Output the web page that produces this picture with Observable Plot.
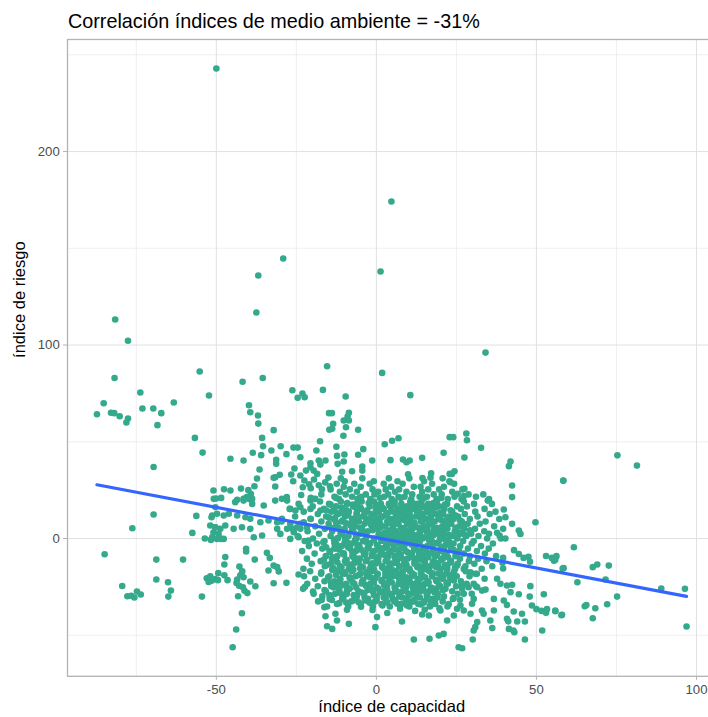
<!DOCTYPE html>
<html><head><meta charset="utf-8">
<script src="https://cdn.jsdelivr.net/npm/d3@7"></script>
<script src="https://cdn.jsdelivr.net/npm/@observablehq/plot@0.6"></script>
<style>
html,body{margin:0;padding:0;background:#fff;overflow:hidden;width:708px;height:717px;}
#chart{position:absolute;left:0;top:0;width:716px;height:717px;}
#chart svg{max-width:none !important;width:716px !important;height:717px !important;}
#title{position:absolute;left:68px;top:12px;font-family:"Liberation Sans",Arial,Helvetica,sans-serif;font-size:19.8px;color:#000;white-space:nowrap;line-height:1;}
</style></head><body>
<div id="chart"></div>
<div id="title">Correlación índices de medio ambiente = -31%</div>
<script>
const titleText = "Correlación índices de medio ambiente = -31%";
const xLabel = "índice de capacidad";
const yLabel = "índice de riesgo";
const xMajor = [-50, 0, 50, 100];
const xMinor = [-75, -25, 25, 75];
const yMajor = [0, 100, 200];
const yMinor = [-50, 50, 150, 250];

// [x, y] points
const outliers = [[-50,242.9],[4.7,174.2],[-29.1,144.7],[1.3,138],[-36.9,135.9],[-37.5,116.8],[-81.6,113.2],[34.1,96.1],[-77.6,102.2],[1.8,85.6],[-15.4,89],[-55.2,86.3],[-81.8,83],[-35.5,83],[-41.8,81]];
const farLeft = [[-73.75,75.5],[-52.3,73.9],[-85.2,69.9],[-63.3,70.3],[-73.1,67.2],[-69.7,67.2],[-67.2,64.8],[-87.3,64.2],[-82.9,65],[-81.9,64.8],[-80.2,63.2],[-77.6,62],[-78.1,60],[-68.4,58.6],[-56.7,52],[-54.3,44.4],[-69.6,37],[-50.9,24.8],[-50.1,20.7],[-69.6,12.4],[-56.25,11.7],[-50.3,16.2],[-51.5,11],[-76.25,5.3],[-57.5,2.9],[-50.4,5.8],[-50.9,3.1],[-53.6,0],[-51.7,-0.7],[-84.9,-8.1],[-68.75,-10.9],[-60.4,-10.9],[-49.4,-17.9],[-68.75,-21.2],[-65.1,-22.6],[-53,-20.5],[-52.4,-22.5],[-51.5,-21.8],[-50.4,-21],[-79.4,-24.5],[-64.2,-26.9],[-74.8,-27.4],[-73.6,-28.9],[-77.8,-29.8],[-76.6,-29.6],[-75.6,-30.5],[-65,-30],[-54.5,-30]];
const upperMid = [[-26.25,76.6],[-24.6,72.7],[-23.1,74.9],[-22.4,73],[-16.7,76.8],[-39.8,68.9],[-39.4,65.3],[-37,63.6],[-36.9,59.4],[-32.1,56],[-14.8,64.8],[-14.7,56.2],[-35.7,52],[-35.4,47.7],[-17.6,50.3],[-29.9,47.7],[-25.9,47],[-24.6,47],[-32.8,45.5],[-38.6,44.3],[-18.75,45.5],[-36,43.1],[-28.1,43.6],[-45.6,41.2],[-41.5,40.3],[-31.3,40.7],[-31.3,38.6],[-23.75,42],[-20.6,38.9],[-18,40.3],[-15.9,40.3],[-17.5,38.2],[-36.5,35.7],[-25.6,36.2],[-22,35.1],[-30.2,32.9],[-31.6,31.7],[-32.1,31.4],[-26.6,33.1],[-23.75,32.6],[-26,29.6],[-37.3,31],[-38.1,27],[-31.6,26.9],[-47.6,25.5],[-45.6,24.8],[-42.3,25.8],[-40,25],[-39.2,23],[-40.5,21.5],[-38.8,20.5],[-48.5,21],[-41.5,20.5],[-43.5,20],[-29.5,20.5],[-28,21.5],[-23.5,22.5],[-20.5,21],[-20.6,36.8],[-19.6,35.1],[-18.5,33.4],[-22.5,30],[-21,28],[-19.5,30.5],[-18,27.5],[-20.5,26],[-17,25.5],[-16,29],[-15,31.5],[-14.5,27],[-23,26.5],
[10.6,74.1],[-9.6,73.4],[-13.9,64.8],[-8.6,65],[-9,63],[-8.6,61],[-10.2,61],[-13.5,59.3],[-13.8,56.7],[-9.5,57.5],[-5.7,56.2],[-10.3,53.1],[2.6,48.7],[4.9,50.5],[6.9,51.8],[-12.5,47.4],[-4.1,46.2],[-12.3,42.7],[-10,43.4],[-5.7,43.3],[-12.1,38.6],[-10.2,39.8],[-1.3,40.3],[4.4,40.5],[8.3,40.8],[9.4,39.4],[10.4,40.3],[14.3,41.7],[21,44.3],[22.9,52.4],[-4.4,37.2],[-4.4,35.1],[-10.7,34.5],[-7.6,34.8],[9.9,33.2],[14.4,31.2],[17.1,33.7],[16.9,31.4],[22.9,33.4],
[28.1,54.3],[28.3,50.8],[24,52.4],[32.7,46.9],[27.5,41.9],[41.9,39.8],[41.4,37.4],[24.4,34.8],[23.6,33.4],[58.4,30],[42.4,27.4],[23.1,29.1],[27.5,25.7],[25.4,23.1],[27.3,21.9],[42.4,21.4],[34.8,19.6]];
const lowerLeft = [[-47.2,-9.6],[-47.5,-13.4],[-40.7,-5.3],[-40.7,-6.7],[-38,-10.9],[-34.2,-7.4],[-33.3,-10],[-42.8,-14.5],[-41.9,-17],[-42.5,-19],[-41.5,-20],[-51.9,-19.5],[-49.5,-21.5],[-47.5,-19],[-46.5,-21.5],[-43.5,-21.2],[-43.7,-23],[-42.9,-24.4],[-41.7,-25.2],[-41.2,-27],[-40.3,-28.2],[-39.4,-22.2],[-37.8,-24.7],[-32.1,-14],[-31,-14.8],[-30.5,-17],[-33.7,-16.5],[-32.1,-23.1],[-28.1,-22.9],[-43.2,-29.8],[-42,-38.6],[-43.8,-47],[-44.9,-56.2],[-24.3,-18.6],[-16.25,-35.5],[-15.9,-40.2],[-15.4,-45.3],
[-50.8,20.5],[-44.1,18.8],[-41.5,19.6],[-39.9,20.5],[-38.8,17.9],[-35.2,17.1],[-31.6,19.6],[-27.9,19.6],[-26.9,15.3],[-25.3,14.5],[-23.75,16.2],[-20.6,19.6],[-19.1,20.5],[-20.6,15.3],[-17.5,14.5],[-51.3,11.9],[-49.8,12.8],[-47.7,11.9],[-46.1,12.8],[-43.5,11.9],[-40.9,11],[-39.4,10.2],[-36.25,8.4],[-33.7,9.3],[-31,8.4],[-29.5,10.2],[-26.9,7.6],[-24.8,5.8],[-22.7,8.4],[-20.6,10.2],[-51.9,6.7],[-50.3,5.8],[-48.75,5],[-47.2,6.7],[-44.6,5],[-42,5.8],[-39.4,5],[-31,5],[-30,2.4],[-27.9,5],[-25.8,3.3],[-23.75,5],[-21.7,5.8],[-51.3,0.7],[-49.3,2.4],[-47.7,-0.2],[-38.3,0.7],[-35.7,1.6],[-26.9,-0.2],[-24.3,0.7],[-21.2,-1],[-49.8,-0.2],[-48.5,-0.2]];
const lowerMid = [[-12.8,-38.9],[-12.3,-42.4],[-13.8,-46.7],[-8.6,-44.1],[-5.5,-32.9],[-3.4,-32],[-1.3,-33.7],[0.2,-40.6],[-0.3,-45.8],[6.5,-33.7],[8,-42.9],[9.6,-34.6],[14.3,-39.3],[16.4,-39.8],[16.9,-34.6],[20,-37.2],[22.1,-42.4],[11.7,-52.2],[16.6,-51.8],[19.5,-50.1],[21,-49.3],
[-11.6,-33.4],[-7.1,-31.9],[-4.8,-35.2],[1.9,-34.6],[5.1,-31.2],[7.4,-36.3],[10.8,-32.8],[13.9,-34.1],[18.2,-32.3],[22.6,-33.9],[24.1,-30.8],[-14.3,-30.6],[-17.1,-31.8],[-19.8,-27.4],[-22.3,-24.9],[26.1,-31.6],[12.1,-37.4],[-1.2,-36.9],[3.4,-38.5],[19.7,-36.1],[-9.2,-36.8],[15.1,-36.8]];
const lowerRight = [[39.8,15],[40.3,11],[42.4,7.6],[44.5,4.1],[45,2.4],[49.7,8.4],[37.7,3],[38.5,1.5],[40.3,0],[43,-6],[44.5,-8],[46,-10],[47.5,-9.5],[48,-12],[53,-9],[54.8,-10],[55.5,-11.5],[58.5,-15.3],[39.6,-10],[39.4,-12.5],[39.6,-15.5],[37.7,-20.8],[38.75,-23.4],[40.8,-24.3],[42.4,-23.9],[41.9,-27.7],[44.5,-28.8],[48.1,-24.6],[47.9,-30],[52.3,-28.8],[36.7,-31.2],[39.8,-32],[40.8,-34.3],[48.6,-34.6],[50,-36.5],[51.6,-37.4],[53,-38.4],[53.3,-36.5],[55.9,-37.2],[58,-39.4],[42.9,-37.7],[45.5,-38.9],[44,-42.9],[46.4,-42.9],[40.8,-41.5],[41.2,-42.8],[41.4,-46.7],[43.1,-48.4],[42.8,-47.5],[46.4,-52.2],[51.8,-47.5],[30.1,-52.2],[25.7,-56.2],[26.8,-56.7],[31.5,-43.2],[30.9,-45.8],[30.4,-47.5],[35.6,-42.4],[36.2,-46.3],
[36.7,-37.2],[33,-37.2],[33.5,-38.9],[29.4,-38.9],[27.3,-37.2],[25.2,-36.3],[24.2,-39.8],[26.25,-34.6],[29.9,-33.7],[30.4,-31.2],[23.1,-20.8],[24.2,-21.7],[26.8,-24.3],[27.3,-28.6],[28.8,-25.2],[30.4,-23.4],[31.5,-25.2],[33,-26.9],[34.1,-26.4],[23.1,-12.2],[25.2,-14],[27.3,-15.7],[29.4,-17.4],[30.9,-18.2]];
const farRight = [[75.3,43],[81.4,37.7],[58.4,29.8],[61.7,-4.5],[56.25,-9.1],[55.9,-11],[58.2,-15.5],[67.6,-14.8],[69,-13.4],[72.6,-14],[71.6,-21.2],[62.8,-22.6],[89,-25.8],[96.4,-26],[75.2,-30],[55.9,-37.6],[57.8,-39.6],[65.1,-35],[65.6,-34.4],[68.4,-36],[72.1,-34],[67.6,-41.2],[96.9,-45.5]];
// dense core, estimated row by row: [y, x, x, ...]
const coreRowsA = [
[31.1,-11.1,-4.4,3.9,10.3,20.7],
[29.6,-9.9,-0.8,6.6,14.9,22.8],
[28.3,-12.4,-6.9,-2.1,2.3,8.2,17.4,24.3],
[26.7,-10.2,-4.9,4.6,11.7,13.8,21.1],
[25.4,-14.3,-8.3,-1.2,2.9,7.1,16.2,19.6,26.9],
[24.2,-11.4,-6.1,0.6,5.8,9.4,14.3,23.7],
[22.8,-17.2,-9.6,-3.3,-0.6,3.7,11.2,17.9,20.4,28.8,33.4],
[21.6,-13.1,-7.6,-4.7,2.4,6.9,8.8,13.5,15.8,24.4,31.1],
[20.4,-19.4,-11.7,-5.9,-1.9,4.8,10.9,18.8,22.3,26.6,35.2],
[19.1,-17.6,-11.1,-4.6,-0.8,5.7,10.6,14.1,18.9,27.3],
[17.9,-24.3,-14.8,-9.2,-6.1,1.4,3.9,7.8,12.7,16.2,22.1,30.5,36.1],
[16.6,-19.9,-12.6,-7.3,-2.1,4.3,9.5,14.6,19.6,25.2,28.3],
[15.3,-27.1,-16.4,-10.7,-4.8,-0.2,2.3,6.6,11.9,17.4,21.2,26.4,33.8],
[13.9,-22.7,-14.1,-8.6,-3.3,0.8,5.3,8.4,13.2,15.8,23.7,30.9,37.2],
[12.7,-18.3,-11.9,-6.2,-1.6,3.1,10.4,14.7,18.6,20.9,27.6,35.4],
[11.4,-25.4,-15.7,-9.8,-4.2,1.9,6.3,9.1,12.4,17.1,22.8,25.5,31.6],
[10.1,-20.5,-13.3,-7.6,-2.4,0.6,4.7,8.1,15.3,19.4,24.1,29.2,38.4],
[8.8,-29.6,-17.2,-10.9,-5.5,-0.9,3.4,10.8,13.9,18.2,21.5,26.7,34.1],
[7.6,-23.8,-14.9,-8.3,-3.7,1.2,6.9,9.6,16.6,23.4,28.5,32.3],
[6.3,-19.1,-12.4,-6.7,-1.3,2.8,5.2,12.1,14.8,20.6,25.9,36.8],
[5.0,-26.2,-16.1,-9.9,-4.5,0.1,8.3,11.3,17.9,22.2,27.4,30.8,39.6],
[3.8,-21.5,-13.8,-7.2,-2.7,3.9,6.1,9.9,15.6,19.2,24.5,33.7],
[2.5,-17.9,-11.2,-5.1,0.8,4.4,7.7,13.4,18.3,21.1,26.3,29.6,35.2],
[1.3,-24.6,-14.3,-8.7,-3.1,2.2,10.2,12.6,16.7,23.9,28.1,31.9],
[0.0,-19.8,-12.1,-6.3,-0.6,5.6,8.8,14.4,20.4,25.2,34.6,38.9],
[-1.3,-22.4,-16.2,-9.4,-4.2,1.6,3.9,11.5,17.3,22.6,27.1,30.4],
[-2.6,-18.6,-13.1,-7.7,-1.9,6.6,9.4,13.2,19.1,24.1,29.8,36.4],
[-3.9,-21.1,-10.8,-5.3,0.4,3.1,7.9,15.9,21.3,26.2,32.7],
[-5.2,-16.9,-12.9,-8.2,-2.8,2.3,5.4,11.8,17.6,23.4,28.6,35.1],
[-6.5,-23.2,-14.6,-6.4,-0.7,4.4,9.2,13.7,19.8,25.8,31.4],
[-7.8,-19.3,-10.4,-3.9,1.3,7.1,11.1,16.2,21.9,27.3,33.9],
[-9.1,-15.8,-12.2,-7.5,-1.4,3.6,5.8,14.3,18.4,24.7,29.2,37.4],
[-10.4,-21.7,-13.9,-5.2,0.2,9.7,12.4,20.7,26.1,31.8],
[-11.7,-17.4,-9.8,-3.3,2.9,6.4,15.1,17.9,23.3,28.9,34.4],
[-13.0,-20.2,-14.1,-7.1,-0.3,4.6,8.6,11.9,19.3,25.4,30.6],
[-14.3,-16.1,-11.3,-4.8,1.8,7.2,13.6,16.8,22.1,27.8,36.2],
[-15.6,-22.8,-13.4,-8.6,-2.1,3.4,10.3,14.9,20.1,24.6,32.9],
[-16.9,-20.7,-12.1,-7.7,-1.4,3.9,6.1,10.5,16.6,24.3,27.9],
[-18.2,-17.3,-9.9,-4.9,0.4,7.8,14.1,19.4,21.8,31.4],
[-19.5,-22.6,-14.7,-6.4,-2.9,2.8,5.3,11.1,17.4,25.1,29.1],
[-20.8,-19.1,-11.3,-8.1,-0.9,8.8,13.4,20.7,23.1,33.8],
[-22.1,-16.2,-13.1,-4.4,1.7,4.2,10.2,16.1,18.8,26.4],
[-23.4,-21.6,-9.4,-6.9,-1.9,6.9,12.2,15.2,22.3,28.2],
[-24.7,-18.3,-14.1,-3.1,3.3,9.4,14.6,19.9,24.9,31.1],
[-26.0,-22.9,-11.6,-8.4,0.6,5.9,11.6,17.9,21.6,26.8],
[-27.3,-15.8,-5.6,-1.1,2.1,8.1,13.8,16.4,23.7],
[-28.6,-19.6,-12.9,-9.2,-3.8,4.9,10.8,19.2,25.4,29.8],
[-29.9,-16.9,-6.1,0.1,7.2,12.6,15.8,21.1],
[-31.2,-14.6,-10.7,-2.6,2.9,9.7,17.6,23.9],
[-32.5,-18.2,-7.8,-0.4,5.6,11.9,14.9,20.7],
[-33.8,-12.3,-4.9,1.6,7.8,13.1,18.4],
[-35.1,-15.4,-8.8,-1.1,4.2,10.3,16.7,22.2]
];
const coreRowsB = [
[17.5,-14.3,-7.4,-0.1,5.7,11.1,16.3,21.4],
[16.0,-10.9,-5.0,1.8,8.9,13.9,18.7],
[14.6,-15.7,-9.3,-2.9,4.6,10.3,15.8,23.2],
[13.3,-12.4,-6.1,0.1,7.1,12.7,20.1],
[12.0,-8.8,-3.8,3.2,8.1,14.4,19.3,24.6],
[10.7,-14.8,-5.9,-0.6,5.9,10.6,16.7,22.2],
[9.4,-10.5,-3.1,3.9,8.8,14.6,20.4,26.1],
[8.2,-12.6,-7.2,0.3,6.1,11.7,17.3,23.2],
[6.9,-8.1,-1.6,5.4,10.9,16.1,21.6,27.3],
[5.6,-11.8,-5.1,1.2,7.6,13.1,18.8,24.7],
[4.3,-7.6,-1.2,4.3,10.1,15.9,20.7,29.2],
[3.1,-10.6,-3.9,2.6,8.5,13.6,19.3,25.9],
[1.8,-6.4,0.7,6.2,11.7,17.9,22.8,27.7],
[0.6,-9.9,-3.2,3.6,9.4,14.9,20.9,25.3],
[-0.7,-13.2,-6.6,-0.8,4.8,10.6,16.4,21.6],
[-1.9,-16.6,-9.9,-3.1,2.9,7.7,13.5,19.4],
[-3.2,-12.4,-5.9,0.2,5.4,11.1,16.8,22.7],
[-4.5,-15.7,-8.8,-2.4,3.3,8.6,14.6,20.3],
[-5.8,-11.6,-4.8,1.1,6.4,12.5,17.9,24.1],
[-7.1,-14.5,-7.5,-1.2,4.6,9.8,15.6,21.1],
[-8.4,-10.1,-3.6,2.3,7.6,13.3,18.9,25.1],
[-9.7,-13.6,-6.8,-0.1,5.7,10.9,16.2,22.4],
[-11.0,-16.4,-9.3,-2.9,3.4,8.9,14.1,20.2],
[-12.3,-12.2,-5.6,0.6,6.2,11.9,17.6,23.3],
[-13.6,-15.3,-8.1,-1.7,4.1,9.4,15.3,21.4],
[-14.9,-10.9,-4.2,1.8,7.1,12.8,18.7,24.6],
[-16.2,-13.8,-7.2,-0.7,4.9,10.3,16.1,22.1],
[-17.5,-17.2,-9.7,-3.1,2.8,8.2,13.9,19.9],
[-18.8,-12.6,-5.4,0.3,6.1,11.8,17.4,23.6],
[-20.1,-15.1,-8.4,-1.9,3.9,9.3,15.2,20.9],
[-21.4,-11.3,-4.1,1.6,7.4,12.9,18.6],
[-22.7,-14.2,-7.4,-0.8,4.8,10.6,16.3,22.3],
[-24.0,-10.4,-3.4,2.4,8.1,13.9,19.6],
[-25.3,-13.3,-6.3,0.1,5.7,11.4,17.1],
[-26.6,-16.2,-9.2,-2.7,3.4,9.1,14.7,20.8],
[-27.9,-11.8,-4.5,1.1,6.8,12.2,18.2],
[-29.2,-14.7,-7.1,-0.8,4.6,10.3,15.9],
[-30.5,-10.3,-3.7,2.3,8.1,13.6,19.1],
[-31.8,-13.9,-6.6,0.1,5.9,11.8,16.7],
[-33.1,-9.4,-2.2,3.4,9.2,14.9]
];
const coreRowsC = [
[21.0,-12.6,-5.2,1.1,7.6,14.9,20.3],
[18.4,-9.1,-2.4,4.9,11.3,17.8],
[15.8,-13.2,-6.3,0.4,7.9,13.5,21.1],
[13.2,-10.4,-3.7,3.6,10.2,16.9],
[10.6,-12.9,-6.6,1.3,6.9,13.8,19.7],
[8.0,-9.6,-1.9,4.1,11.9,17.3,22.4],
[5.4,-13.7,-7.4,0.2,8.6,14.7,20.8],
[2.8,-10.8,-4.4,3.3,10.9,16.4],
[0.2,-12.1,-6.2,1.4,7.3,13.1,19.9],
[-2.4,-8.9,-2.6,4.8,11.6,18.2,22.8],
[-5.0,-13.1,-5.9,1.9,8.1,15.4,21.1],
[-7.6,-10.2,-3.4,3.9,10.6,17.1],
[-10.2,-12.7,-6.9,0.6,7.8,14.1,20.7],
[-12.8,-9.3,-1.2,5.3,12.4,18.9],
[-15.4,-13.4,-5.1,2.2,9.1,15.8,22.1],
[-18.0,-10.6,-2.9,4.4,11.2,17.6],
[-20.6,-7.8,-0.4,7.1,13.7,20.2],
[-23.2,-12.3,-4.6,2.8,9.4,16.1,21.9],
[-25.8,-8.4,-1.7,5.9,12.6,18.8],
[-28.4,-11.1,-3.9,3.1,9.9,15.7]
];

const pairs = [...outliers, ...farLeft, ...upperMid, ...lowerLeft, ...lowerMid, ...lowerRight, ...farRight];
const points = pairs.map(([x, y]) => ({x, y}));
for (const [y, ...xs] of [...coreRowsA, ...coreRowsB, ...coreRowsC]) for (const x of xs) points.push({x, y});

const fmt = d => String(d);
const chart = Plot.plot({
  width: 716, height: 717,
  marginLeft: 67, marginRight: 0.5, marginTop: 39, marginBottom: 41.2,
  x: {domain: [-96.5, 106.1]},
  y: {domain: [-71.2, 257.9]},
  style: {fontFamily: "'Liberation Sans', Arial, Helvetica, sans-serif", background: "#fff", overflow: "visible"},
  marks: [
    Plot.ruleX(xMinor, {stroke: "#DEDEDE", strokeWidth: 0.5}),
    Plot.ruleY(yMinor, {stroke: "#DEDEDE", strokeWidth: 0.5}),
    Plot.ruleX(xMajor, {stroke: "#DEDEDE", strokeWidth: 0.9}),
    Plot.ruleY(yMajor, {stroke: "#DEDEDE", strokeWidth: 0.9}),
    Plot.dot(points, {x: "x", y: "y", r: 3.3, fill: "#34A98C", stroke: null}),
    Plot.linearRegressionY(points, {x: "x", y: "y", stroke: "#3366FF", strokeWidth: 3.2, ci: 0}),
    Plot.frame({stroke: "#B3B3B3", strokeWidth: 1.3}),
    Plot.axisX({ticks: xMajor, tickFormat: fmt, tickSize: 4, tickPadding: 4.2, fontSize: 13.2, fill: "#4D4D4D", stroke: "#B3B3B3", label: null}),
    Plot.axisY({ticks: yMajor, tickFormat: fmt, tickSize: 4, tickPadding: 3.7, fontSize: 13.2, fill: "#4D4D4D", stroke: "#B3B3B3", label: null}),
    Plot.text([xLabel], {text: d => d, frameAnchor: "bottom", dy: 36, fontSize: 16.5, fill: "#000"}),
    Plot.text([yLabel], {text: d => d, frameAnchor: "left", dx: -47.3, rotate: -90, fontSize: 16.5, fill: "#000"})
  ]
});
chart.style.maxWidth = "none";
document.getElementById("chart").appendChild(chart);
document.getElementById("title").textContent = titleText;
</script></body></html>
